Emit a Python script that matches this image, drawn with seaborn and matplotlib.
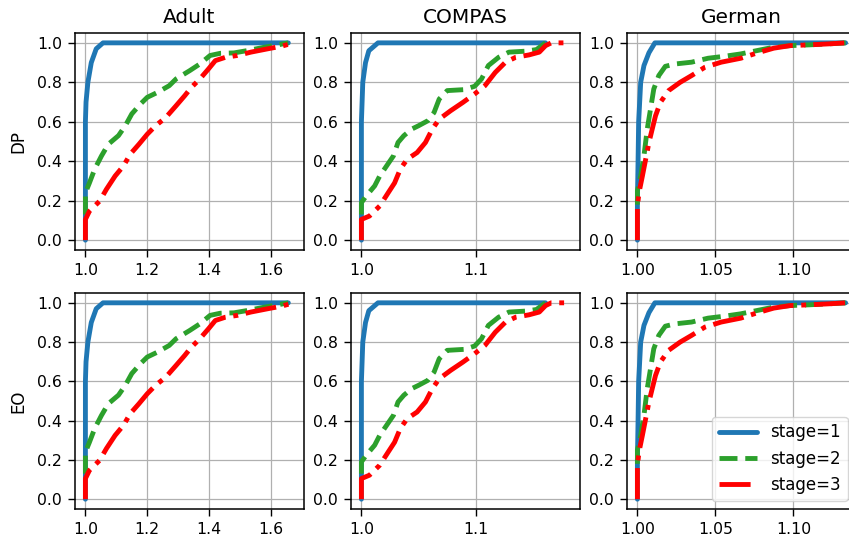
import numpy as np
import pandas as pd
import matplotlib
matplotlib.use("Agg")
import matplotlib.pyplot as plt
from matplotlib.ticker import FixedLocator, FormatStrFormatter
import seaborn as sns

datasets = ["Adult", "COMPAS", "German"]
metrics = ["DP", "EO"]
stages = ["stage=1", "stage=2", "stage=3"]

# ---- Adult ----
adult_s1_x = [1.0, 1.0, 1.0, 1.002, 1.008, 1.019, 1.035, 1.057, 1.656]
adult_s1_y = [0.0, 0.3, 0.6, 0.7, 0.8, 0.9, 0.97, 1.0, 1.0]
adult_s2_x = [1.0, 1.0, 1.013, 1.03, 1.052, 1.074, 1.107, 1.129, 1.15, 1.178, 1.2, 1.233,
              1.271, 1.293, 1.337, 1.37, 1.403, 1.436, 1.48, 1.524, 1.579, 1.623, 1.656]
adult_s2_y = [0.13, 0.24, 0.29, 0.36, 0.427, 0.486, 0.53, 0.58, 0.64, 0.69, 0.724, 0.749,
              0.783, 0.817, 0.859, 0.893, 0.936, 0.947, 0.949, 0.961, 0.978, 0.99, 1.0]
adult_s3_x = [1.0, 1.0, 1.013, 1.046, 1.068, 1.096, 1.123, 1.145, 1.173, 1.2, 1.227, 1.26,
              1.293, 1.321, 1.343, 1.37, 1.398, 1.42, 1.453, 1.491, 1.535, 1.59, 1.634, 1.673]
adult_s3_y = [0.0, 0.105, 0.147, 0.198, 0.258, 0.325, 0.376, 0.436, 0.486, 0.537, 0.58, 0.622,
              0.681, 0.732, 0.775, 0.817, 0.868, 0.91, 0.927, 0.936, 0.953, 0.97, 0.983, 1.0]

# ---- COMPAS ----
compas_s1_x = [1.0, 1.0, 1.0, 1.0012, 1.0036, 1.0065, 1.0145, 1.161]
compas_s1_y = [0.0, 0.3, 0.6, 0.8, 0.9, 0.96, 1.0, 1.0]
compas_s2_x = [1.0, 1.0, 1.0042, 1.0116, 1.016, 1.022, 1.028, 1.032, 1.037, 1.044, 1.05, 1.058,
               1.0635, 1.068, 1.075, 1.09, 1.099, 1.105, 1.111, 1.12, 1.129, 1.144, 1.153, 1.161]
compas_s2_y = [0.13, 0.19, 0.224, 0.275, 0.325, 0.376, 0.427, 0.495, 0.529, 0.563, 0.58, 0.605,
               0.647, 0.715, 0.758, 0.763, 0.78, 0.817, 0.885, 0.927, 0.953, 0.958, 0.966, 1.0]
compas_s3_x = [1.0, 1.0, 1.007, 1.016, 1.0234, 1.029, 1.034, 1.04, 1.0487, 1.056, 1.062, 1.068,
               1.078, 1.0887, 1.099, 1.108, 1.117, 1.126, 1.135, 1.1466, 1.1555, 1.161, 1.166, 1.182]
compas_s3_y = [0.0, 0.105, 0.122, 0.173, 0.24, 0.29, 0.36, 0.41, 0.444, 0.495, 0.563, 0.613,
               0.656, 0.698, 0.741, 0.783, 0.85, 0.902, 0.927, 0.939, 0.953, 0.986, 1.0, 1.0]

# ---- German ----
german_s1_x = [1.0, 1.0, 1.0004, 1.0008, 1.0021, 1.0042, 1.0074, 1.0112, 1.1335]
german_s1_y = [0.0, 0.2, 0.39, 0.6, 0.8, 0.885, 0.95, 1.0, 1.0]
german_s2_x = [1.0, 1.0, 1.0021, 1.0042, 1.0063, 1.0084, 1.0105, 1.0137, 1.0179, 1.0242, 1.0347,
               1.0453, 1.0558, 1.0663, 1.0768, 1.0874, 1.0979, 1.1105, 1.123, 1.1335]
german_s2_y = [0.18, 0.25, 0.325, 0.427, 0.563, 0.664, 0.766, 0.834, 0.881, 0.893, 0.902,
               0.922, 0.932, 0.944, 0.961, 0.978, 0.986, 0.99, 0.995, 1.0]
german_s3_x = [1.0, 1.0, 1.001, 1.0032, 1.0053, 1.0074, 1.0095, 1.0116, 1.0147, 1.02, 1.0274,
               1.0347, 1.0432, 1.0537, 1.0663, 1.0768, 1.0874, 1.0979, 1.1105, 1.123, 1.1335]
german_s3_y = [0.0, 0.17, 0.24, 0.325, 0.41, 0.495, 0.563, 0.63, 0.698, 0.758, 0.8, 0.834,
               0.876, 0.902, 0.922, 0.949, 0.973, 0.986, 0.99, 0.995, 1.0]

curves = {
    "Adult": [(adult_s1_x, adult_s1_y), (adult_s2_x, adult_s2_y), (adult_s3_x, adult_s3_y)],
    "COMPAS": [(compas_s1_x, compas_s1_y), (compas_s2_x, compas_s2_y), (compas_s3_x, compas_s3_y)],
    "German": [(german_s1_x, german_s1_y), (german_s2_x, german_s2_y), (german_s3_x, german_s3_y)],
}

x_ticks = {"Adult": [1.0, 1.2, 1.4, 1.6], "COMPAS": [1.0, 1.1], "German": [1.00, 1.05, 1.10]}
x_fmt = {"Adult": "%.1f", "COMPAS": "%.1f", "German": "%.2f"}
y_ticks = [0.0, 0.2, 0.4, 0.6, 0.8, 1.0]

sns.set_style("ticks", {"axes.grid": True, "axes.edgecolor": "black", "grid.color": "#b0b0b0",
                        "xtick.color": "black", "ytick.color": "black", "text.color": "black",
                        "axes.labelcolor": "black", "xtick.direction": "out", "ytick.direction": "out"})
plt.rcParams["font.family"] = ["DejaVu Sans"]
plt.rcParams["grid.linewidth"] = 0.9
plt.rcParams["axes.linewidth"] = 1.1

colors = ["#1f77b4", "#2ca02c", "#ff0000"]
styles = ["-", "--", "-."]

W, H = 849, 542
fig = plt.figure(figsize=(W / 100, H / 100), dpi=100)
col_left = [75, 351, 627]
col_w = 229
row_top = [33, 293]
row_h = [217, 216]

for r, metric in enumerate(metrics):
    for c, ds in enumerate(datasets):
        rect = [col_left[c] / W, (H - row_top[r] - row_h[r]) / H, col_w / W, row_h[r] / H]
        ax = fig.add_axes(rect)
        for k, (xs, ys) in enumerate(curves[ds]):
            df = pd.DataFrame({"x": xs, "y": ys})
            sns.lineplot(data=df, x="x", y="y", ax=ax, estimator=None, sort=False,
                         color=colors[k], linestyle=styles[k], linewidth=3.5,
                         label=stages[k] if (r == 1 and c == 2) else None, legend=False)
        ax.set_ylim(-0.05, 1.05)
        ax.margins(x=0.05)
        ax.xaxis.set_major_locator(FixedLocator(x_ticks[ds]))
        ax.xaxis.set_major_formatter(FormatStrFormatter(x_fmt[ds]))
        ax.yaxis.set_major_locator(FixedLocator(y_ticks))
        ax.yaxis.set_major_formatter(FormatStrFormatter("%.1f"))
        ax.tick_params(labelsize=11.3, length=5, width=1.0, pad=4.5)
        ax.grid(True, color="#b0b0b0", linewidth=0.9)
        ax.set_xlabel("")
        ax.set_ylabel(metric if c == 0 else "", fontsize=12, labelpad=7)
        if r == 0:
            ax.set_title(ds, fontsize=14.5, pad=7)
        if r == 1 and c == 2:
            ax.legend(loc="lower right", fontsize=12, handlelength=2.3, framealpha=0.8,
                      borderaxespad=0.5)

fig.savefig("out.png", dpi=100)
